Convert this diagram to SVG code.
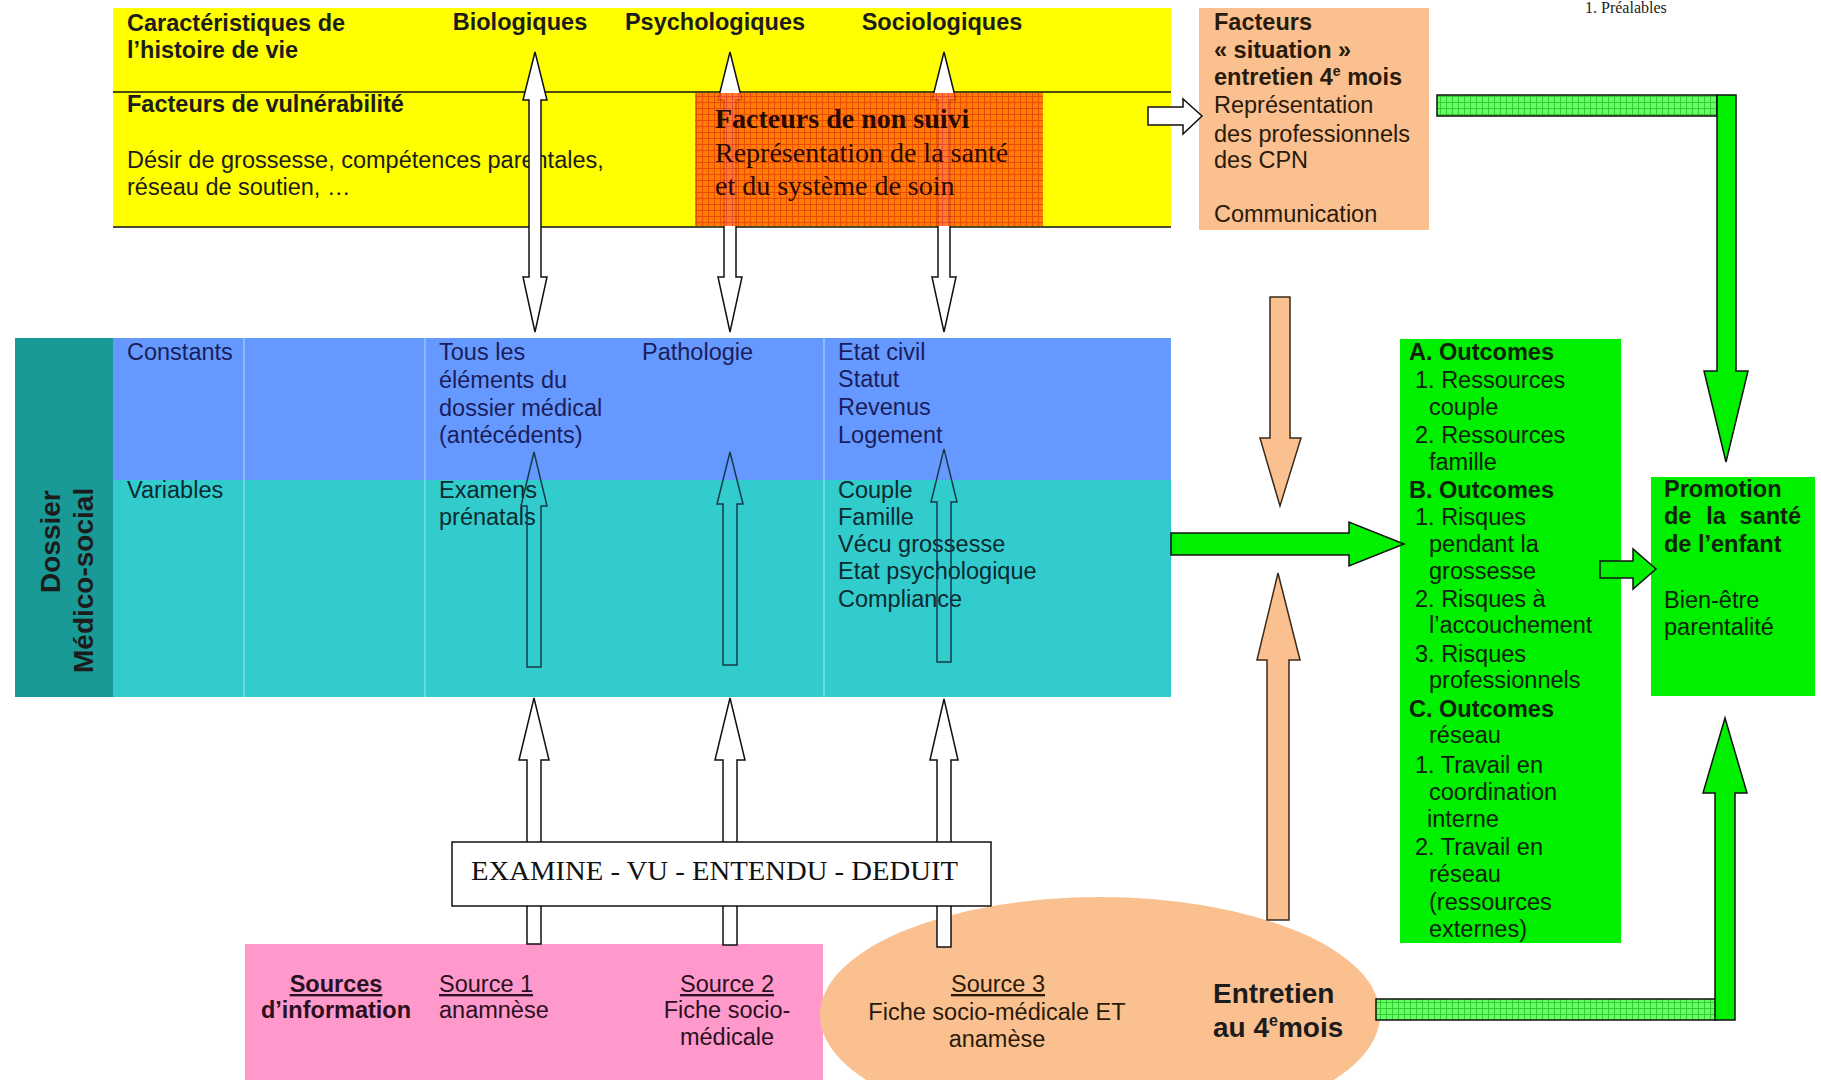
<svg xmlns="http://www.w3.org/2000/svg" width="1821" height="1080" viewBox="0 0 1821 1080">
<style>
.s{font-family:"Liberation Sans",Arial,sans-serif;font-size:23.5px;fill:#1c1c1c}
.big{font-size:28px}
.b{font-weight:bold}
.nv{fill:#1a1d5c}
.tl{fill:#0b2a30}
.gr{fill:#0c220c}
.pk{fill:#2a1020}
.pc{fill:#2a1a0a}
.serif{font-family:"Liberation Serif","Times New Roman",serif}
.u{text-decoration:underline}
.m{text-anchor:middle}
.wa{fill:#ffffff;stroke:#111;stroke-width:1.5}
.ca{fill:none;stroke:#17394a;stroke-width:1.5}
.pa{fill:#fac090;stroke:#3a2a1a;stroke-width:1.5}
.ga{fill:#00f000;stroke:#111;stroke-width:1.5}
</style>
<defs>
<pattern id="orgrid" width="6" height="6" patternUnits="userSpaceOnUse">
<rect width="6" height="6" fill="#ff6600"/>
<path d="M0 0.5H6M0.5 0V6" stroke="#e52a0a" stroke-width="1"/>
</pattern>
<pattern id="grgrid" width="6" height="6" patternUnits="userSpaceOnUse">
<rect width="6" height="6" fill="#66ff66"/>
<path d="M0 0.5H6M0.5 0V6" stroke="#33cc33" stroke-width="1"/>
</pattern>
</defs>
<rect width="1821" height="1080" fill="#ffffff"/>

<text class="serif" x="1585" y="13" font-size="16" fill="#222">1. Préalables</text>

<g id="yellow-histoire">
<rect x="113" y="8" width="1058" height="219" fill="#ffff00"/>
<line x1="113" y1="92" x2="1171" y2="92" stroke="#111" stroke-width="1.5"/>
<line x1="113" y1="227" x2="1171" y2="227" stroke="#111" stroke-width="1.5"/>
<text class="s b" x="127" y="31">Caractéristiques de</text>
<text class="s b" x="127" y="58">l’histoire de vie</text>
<text class="s b m" x="520" y="30">Biologiques</text>
<text class="s b m" x="715" y="30">Psychologiques</text>
<text class="s b m" x="942" y="30">Sociologiques</text>
<text class="s b" x="127" y="112">Facteurs de vulnérabilité</text>
<text class="s" x="127" y="168">Désir de grossesse, compétences parentales,</text>
<text class="s" x="127" y="195">réseau de soutien, …</text>
</g>

<g id="facteurs-situation">
<rect x="1199" y="8" width="230" height="222" fill="#fac090"/>
<text class="s b pc" x="1214" y="30">Facteurs</text>
<text class="s b pc" x="1214" y="58">« situation »</text>
<text class="s b pc" x="1214" y="85">entretien 4<tspan style="font-size:14px" dy="-9">e</tspan><tspan dy="9"> mois</tspan></text>
<text class="s pc" x="1214" y="113">Représentation</text>
<text class="s pc" x="1214" y="142">des professionnels</text>
<text class="s pc" x="1214" y="168">des CPN</text>
<text class="s pc" x="1214" y="222">Communication</text>
</g>

<g id="dossier-medico-social">
<rect x="15" y="338" width="98" height="359" fill="#1a9a97"/>
<rect x="113" y="338" width="1058" height="142" fill="#6699ff"/>
<rect x="113" y="480" width="1058" height="217" fill="#33cccc"/>
<g stroke="#ffffff" stroke-opacity="0.28" stroke-width="2">
<line x1="244" y1="338" x2="244" y2="697"/>
<line x1="425" y1="338" x2="425" y2="697"/>
<line x1="824" y1="338" x2="824" y2="697"/>
</g>
<text class="s b big" transform="translate(60 593) rotate(-90)" fill="#111">Dossier</text>
<text class="s b big" transform="translate(93 673) rotate(-90)" fill="#111">Médico-social</text>
<text class="s nv" x="127" y="360">Constants</text>
<text class="s nv" x="439" y="360">Tous les</text>
<text class="s nv" x="439" y="388">éléments du</text>
<text class="s nv" x="439" y="416">dossier médical</text>
<text class="s nv" x="439" y="443">(antécédents)</text>
<text class="s nv" x="642" y="360">Pathologie</text>
<text class="s nv" x="838" y="360">Etat civil</text>
<text class="s nv" x="838" y="387">Statut</text>
<text class="s nv" x="838" y="415">Revenus</text>
<text class="s nv" x="838" y="443">Logement</text>
<text class="s tl" x="127" y="498">Variables</text>
<text class="s tl" x="439" y="498">Examens</text>
<text class="s tl" x="439" y="525">prénatals</text>
<text class="s tl" x="838" y="498">Couple</text>
<text class="s tl" x="838" y="525">Famille</text>
<text class="s tl" x="838" y="552">Vécu grossesse</text>
<text class="s tl" x="838" y="579">Etat psychologique</text>
<text class="s tl" x="838" y="607">Compliance</text>
</g>

<g id="outcomes">
<rect x="1400" y="339" width="221" height="604" fill="#00f000"/>
<text class="s b gr" x="1409" y="360">A. Outcomes</text>
<text class="s gr" x="1415" y="388">1. Ressources</text>
<text class="s gr" x="1429" y="415">couple</text>
<text class="s gr" x="1415" y="443">2. Ressources</text>
<text class="s gr" x="1429" y="470">famille</text>
<text class="s b gr" x="1409" y="498">B. Outcomes</text>
<text class="s gr" x="1415" y="525">1. Risques</text>
<text class="s gr" x="1429" y="552">pendant la</text>
<text class="s gr" x="1429" y="579">grossesse</text>
<text class="s gr" x="1415" y="607">2. Risques à</text>
<text class="s gr" x="1429" y="633">l’accouchement</text>
<text class="s gr" x="1415" y="662">3. Risques</text>
<text class="s gr" x="1429" y="688">professionnels</text>
<text class="s b gr" x="1409" y="717">C. Outcomes</text>
<text class="s gr" x="1429" y="743">réseau</text>
<text class="s gr" x="1415" y="773">1. Travail en</text>
<text class="s gr" x="1429" y="800">coordination</text>
<text class="s gr" x="1427" y="827">interne</text>
<text class="s gr" x="1415" y="855">2. Travail en</text>
<text class="s gr" x="1429" y="882">réseau</text>
<text class="s gr" x="1429" y="910">(ressources</text>
<text class="s gr" x="1429" y="937">externes)</text>
</g>

<g id="promotion">
<rect x="1651" y="477" width="164" height="219" fill="#00f000"/>
<text class="s b gr" x="1664" y="497">Promotion</text>
<text class="s b gr" x="1664" y="524">de</text>
<text class="s b gr m" x="1716" y="524">la</text>
<text class="s b gr" x="1801" y="524" text-anchor="end">santé</text>
<text class="s b gr" x="1664" y="552">de l’enfant</text>
<text class="s gr" x="1664" y="608">Bien-être</text>
<text class="s gr" x="1664" y="635">parentalité</text>
</g>

<g id="sources">
<rect x="245" y="944" width="578" height="140" fill="#ff99cc"/>
<text class="s b pk m u" x="336" y="992">Sources</text>
<text class="s b pk m" x="336" y="1018">d’information</text>
<text class="s pk u" x="439" y="992">Source 1</text>
<text class="s pk" x="439" y="1018">anamnèse</text>
<text class="s pk m u" x="727" y="992">Source 2</text>
<text class="s pk m" x="727" y="1018">Fiche socio-</text>
<text class="s pk m" x="727" y="1045">médicale</text>
</g>

<g id="entretien">
<ellipse cx="1100" cy="1015" rx="280" ry="118" fill="#fac090"/>
<text class="s pc m u" x="998" y="992">Source 3</text>
<text class="s pc m" x="997" y="1020">Fiche socio-médicale ET</text>
<text class="s pc m" x="997" y="1047">anamèse</text>
<text class="s b big" x="1213" y="1003" fill="#1a1008">Entretien</text>
<text class="s b big" x="1213" y="1037" fill="#1a1008">au 4<tspan style="font-size:16px" dy="-11">e</tspan><tspan dy="11">mois</tspan></text>
</g>

<g id="connectors">
<polygon class="wa" points="535,52 547,100 541,100 541,277 547,277 535,332 523,277 529,277 529,100 523,100"/>
<polygon class="wa" points="730,52 742,100 736,100 736,277 742,277 730,332 718,277 724,277 724,100 718,100"/>
<polygon class="wa" points="944,52 956,100 950,100 950,277 956,277 944,332 932,277 938,277 938,100 932,100"/>
<polygon class="ca" points="534,452 547,506 541,506 541,667 527,667 527,506 521,506"/>
<polygon class="ca" points="730,452 743,504 737,504 737,665 723,665 723,504 717,504"/>
<polygon class="ca" points="944,449 957,502 951,502 951,662 937,662 937,502 931,502"/>
<polygon class="wa" points="534,698 549,760 541,760 541,944 527,944 527,760 519,760"/>
<polygon class="wa" points="730,698 745,760 737,760 737,945 723,945 723,760 715,760"/>
<polygon class="wa" points="944,699 958,760 951,760 951,947 937,947 937,760 930,760"/>
<polygon class="wa" points="1148,107 1183,107 1183,99 1202,116 1183,134 1183,125 1148,125"/>
<polygon class="pa" points="1270,297 1290,297 1290,438 1301,438 1280,506 1260,438 1270,438"/>
<polygon class="pa" points="1278,573 1300,660 1289,660 1289,920 1267,920 1267,660 1257,660"/>
<polygon class="ga" points="1171,533 1349,533 1349,522 1404,544 1349,566 1349,555 1171,555"/>
<polygon class="ga" points="1600,561 1633,561 1633,549 1656,569 1633,589 1633,578 1600,578"/>
<rect x="1437" y="95" width="280" height="21" fill="url(#grgrid)" stroke="#111" stroke-width="1.5"/>
<polygon class="ga" points="1717,95 1736,95 1736,371 1748,371 1726,462 1704,371 1717,371"/>
<rect x="1376" y="999" width="340" height="21" fill="url(#grgrid)" stroke="#111" stroke-width="1.5"/>
<polygon class="ga" points="1715,1020 1735,1020 1735,793 1747,793 1725,718 1703,793 1715,793"/>
</g>

<g id="non-suivi">
<rect x="695" y="93" width="348" height="133" fill="url(#orgrid)" opacity="0.85"/>
<text class="serif b" font-size="28" x="715" y="128" fill="#2a0a00">Facteurs de non suivi</text>
<text class="serif" font-size="28" x="715" y="162" fill="#2a0a00">Représentation de la santé</text>
<text class="serif" font-size="28" x="715" y="195" fill="#2a0a00">et du système de soin</text>
</g>

<g id="examine">
<rect x="452" y="842" width="539" height="64" fill="#ffffff" stroke="#111" stroke-width="1.5"/>
<text class="serif" font-size="27" x="471" y="880" textLength="487" lengthAdjust="spacingAndGlyphs" fill="#111">EXAMINE - VU - ENTENDU - DEDUIT</text>
</g>
</svg>
